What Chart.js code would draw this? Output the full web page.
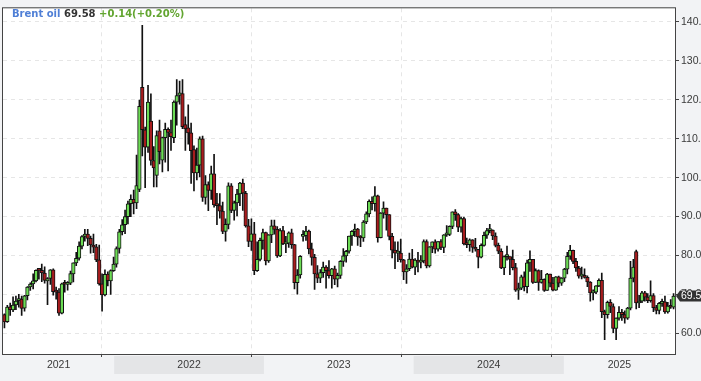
<!DOCTYPE html>
<html>
<head>
<meta charset="utf-8">
<script src="https://cdn.jsdelivr.net/npm/chart.js@4.4.1/dist/chart.umd.min.js"></script>
<style>
  html, body { margin: 0; padding: 0; background: #f2f3f5; }
  #wrap { position: relative; width: 701px; height: 381px; overflow: hidden; }
  #title { position: absolute; left: 12px; top: 8px; font: bold 10px "DejaVu Sans", sans-serif; line-height: 12px; white-space: nowrap; }
</style>
</head>
<body>
<div id="wrap">
  <canvas id="chart1"></canvas>
  <div id="title"><span style="color:#4f7fd6">Brent oil</span> <span style="color:#333">69.58</span> <span style="color:#62a530">+0.14(+0.20%)</span></div>
</div>
<script>
// weekly candles, first week starts Mon 5 Apr 2021
const firstWeek = '2021-04-05';

const opens = [
  // 2021
  64.8,63.0,66.8,66.0,67.3,68.4,68.8,66.5,69.7,71.9,72.7,73.5,76.2,76.2,75.5,73.5,74.1,76.3,70.7,70.6,
  65.2,72.7,72.6,72.9,75.3,78.1,79.3,82.4,84.9,85.5,84.4,82.7,82.2,78.9,72.7,69.9,75.2,73.5,76.1,
  // 2022
  77.8,81.8,86.1,87.9,90.0,93.3,94.4,93.5,97.0,123.2,112.3,107.8,114.5,104.4,100.6,112.0,104.5,110.3,112.4,111.6,
  110.3,119.4,121.1,121.6,113.6,112.8,111.5,107.2,101.2,103.2,110.0,94.9,98.2,96.7,101.0,93.0,92.8,91.4,86.2,88.0,
  97.9,91.6,93.5,95.8,98.6,96.0,87.6,83.6,85.6,76.1,79.0,83.9,
  // 2023
  85.9,78.6,85.3,87.6,86.7,79.9,86.4,83.0,83.2,85.8,82.8,73.0,75.0,84.9,85.1,86.3,81.7,79.5,75.3,74.2,
  75.6,77.0,76.1,74.8,76.6,73.9,74.9,78.5,79.9,81.1,85.0,86.2,86.8,84.8,84.5,88.6,90.7,93.9,93.3,95.3,
  84.6,90.9,92.2,90.5,84.9,81.4,80.6,80.6,78.9,75.8,76.6,79.1,
  // 2024
  77.0,78.8,78.3,78.6,83.6,77.3,82.2,83.5,81.6,83.6,82.1,85.3,85.4,87.5,91.2,90.5,87.3,89.5,83.0,82.8,
  84.0,82.1,81.6,79.6,82.6,85.2,86.4,86.5,85.0,82.6,81.1,76.8,79.7,79.7,79.0,76.9,71.1,71.6,74.5,72.0,
  78.1,79.0,73.1,76.1,73.1,73.9,71.0,75.2,72.9,71.1,74.5,72.9,
  // 2025
  74.2,76.5,79.8,81.3,78.5,76.8,74.7,74.7,74.4,73.2,70.4,70.6,72.2,73.6,65.6,64.8,68.0,66.9,61.3,63.9,
  65.4,64.8,63.9,66.5,74.2,81.0,67.8,68.3,70.4,69.3,68.4,69.7,66.6,65.9,67.7,68.1,65.5,67.0,66.7
];
const highs = [
  65.0,67.2,67.8,69.4,69.6,70.0,69.6,69.8,72.0,73.0,75.3,76.3,76.6,77.8,77.1,74.3,76.4,76.6,71.9,71.5,
  72.9,73.6,73.3,76.0,78.1,80.8,83.5,85.1,86.7,86.7,85.0,85.5,82.9,82.7,75.3,76.3,75.8,76.3,79.6,
  82.2,86.7,89.2,91.7,94.0,95.6,96.8,105.8,119.9,139.1,113.0,123.7,121.5,108.0,112.0,114.8,110.4,114.0,112.8,114.8,
  119.7,125.2,124.8,125.2,115.6,118.7,114.0,108.2,107.6,110.5,110.7,100.5,98.9,103.0,106.0,96.0,95.9,93.7,89.4,98.7,
  98.5,94.0,97.0,98.8,99.6,96.5,89.3,89.4,88.5,83.5,84.5,86.8,
  86.0,85.4,89.1,89.1,87.4,86.9,87.5,84.9,86.1,86.8,82.9,76.4,80.0,86.4,87.5,86.5,83.2,80.3,77.4,76.4,
  78.3,77.4,78.7,76.7,77.3,75.5,78.7,81.8,81.3,85.0,86.4,88.1,87.0,85.1,89.0,91.2,94.3,95.1,97.7,95.5,
  91.0,93.8,92.2,90.5,85.7,83.5,83.5,84.2,79.0,77.7,80.6,81.6,
  79.2,80.8,80.0,84.0,84.0,82.3,83.5,84.0,83.6,84.1,85.4,87.7,87.6,91.2,91.8,90.8,89.9,89.9,84.5,84.3,
  84.1,84.4,81.6,83.0,86.0,87.0,88.0,86.6,85.8,83.2,81.7,79.9,82.4,79.7,81.4,78.0,72.9,75.0,75.8,78.8,
  81.2,79.0,76.6,76.3,76.2,74.0,75.4,75.2,74.4,74.6,74.7,74.3,
  76.7,80.8,82.6,81.4,79.3,77.2,77.0,76.6,74.8,73.3,71.2,72.3,74.0,75.5,66.0,68.3,68.7,67.6,64.0,66.9,
  66.2,65.8,66.7,78.5,79.0,81.4,69.8,70.8,70.8,70.2,73.5,70.2,67.2,68.0,68.8,69.6,68.0,68.7,70.2
];
const lows = [
  61.4,62.8,64.6,65.6,66.1,66.7,64.6,65.7,68.6,71.0,71.4,73.2,73.9,73.3,72.9,67.4,72.6,69.8,68.8,64.6,
  65.0,70.6,71.1,72.5,73.2,77.4,78.8,81.7,83.7,82.5,80.6,80.7,78.4,72.4,65.7,69.6,72.2,70.0,75.9,
  77.0,80.6,85.3,85.6,88.1,90.0,90.7,92.0,96.4,105.6,97.4,106.5,103.2,97.6,97.6,103.5,101.5,104.0,101.7,107.0,
  109.0,113.5,118.9,112.6,107.0,108.6,98.5,96.6,99.4,100.2,93.9,93.2,91.5,94.4,92.4,87.9,89.6,85.6,83.7,86.8,
  91.0,89.1,90.2,92.8,91.6,87.3,82.3,81.3,75.1,75.9,78.6,81.6,
  77.6,78.2,83.3,85.5,79.5,79.7,82.8,80.7,82.1,81.8,71.4,70.1,74.2,83.7,83.9,80.4,77.5,71.3,73.0,73.0,
  74.4,71.6,74.2,71.6,72.5,71.9,74.1,77.2,78.3,80.6,82.6,84.9,82.6,82.3,83.6,88.2,89.9,91.7,91.4,83.4,
  84.5,89.6,86.5,84.0,79.4,76.6,78.4,78.3,73.8,72.8,76.1,76.8,
  75.1,75.8,76.8,78.1,76.8,77.0,80.7,80.6,81.1,81.5,80.7,84.9,85.1,86.9,89.0,86.1,86.0,82.7,82.0,81.1,
  80.8,81.1,76.8,79.4,82.4,84.4,85.8,84.1,82.2,80.5,76.6,75.1,78.8,75.1,76.3,70.8,68.7,71.2,70.9,70.4,
  75.9,72.8,73.0,71.0,72.9,70.8,71.0,71.9,70.9,71.0,71.9,72.3,
  73.3,75.3,79.0,77.9,75.9,74.2,74.0,74.2,72.0,68.3,68.6,70.2,72.0,64.0,58.4,63.9,65.3,60.2,58.4,63.4,
  63.3,62.6,63.6,66.0,73.2,66.3,66.6,67.9,68.3,67.9,68.0,65.6,65.0,65.0,66.9,65.1,65.2,66.4,66.3
];
const closes = [
  62.95,66.77,66.11,67.25,68.28,68.71,66.44,69.63,71.89,72.69,73.51,76.18,76.17,75.55,73.59,74.10,76.33,70.70,70.59,65.18,
  72.70,72.61,72.92,75.34,78.09,79.28,82.39,84.86,85.53,84.38,82.74,82.17,78.89,72.72,69.88,75.15,73.52,76.14,77.78,
  81.75,86.06,87.89,90.03,93.27,94.44,93.54,97.93,118.3,112.3,107.8,119.4,104.4,102.5,110.8,106.7,110.3,112.4,111.6,110.5,
  119.4,121.1,121.8,113.1,112.5,111.5,106.9,101.2,103.2,110.0,94.9,98.2,96.7,101.0,93.0,92.8,91.4,86.2,88.0,97.9,
  91.6,93.5,95.8,98.6,96.0,87.6,83.6,85.6,76.1,79.0,83.9,85.9,
  78.6,85.3,87.6,86.7,79.9,86.4,83.0,83.2,85.8,82.8,73.0,75.0,79.8,85.1,86.3,81.7,79.5,75.3,74.2,75.6,
  77.0,76.1,74.8,76.6,73.9,74.9,78.5,79.9,81.1,85.0,86.2,86.8,84.8,84.5,88.6,90.7,93.9,93.3,95.3,84.6,
  90.9,92.2,90.5,84.9,81.4,80.6,80.6,78.9,75.8,76.6,79.1,77.0,
  78.8,78.3,78.6,83.6,77.3,82.2,83.5,81.6,83.6,82.1,85.3,85.4,87.5,91.2,90.5,87.3,89.5,83.0,82.8,84.0,
  82.1,81.6,79.6,82.6,85.2,86.4,86.5,85.0,82.6,81.1,76.8,79.7,79.7,79.0,76.9,71.1,71.6,74.5,72.0,78.1,
  79.0,73.1,76.1,73.1,73.9,71.0,75.2,72.9,71.1,74.5,72.9,74.2,
  76.5,79.8,81.3,78.5,76.8,74.7,74.7,74.4,73.2,70.4,70.6,72.2,73.6,65.6,64.8,68.0,66.9,61.3,63.9,65.4,
  64.8,63.9,66.5,74.2,77.0,67.8,68.3,70.4,69.3,68.4,69.7,66.6,65.9,67.7,68.1,65.5,67.0,66.7,69.58
];

const yTicks = [60, 70, 80, 90, 100, 110, 120, 130, 140];
const yearLabels = ['2021', '2022', '2023', '2024', '2025'];
const gridDates = ['2021-12-01', '2022-12-01', '2023-12-01', '2024-12-01'];
const lastPrice = 69.58;

const DAY = 86400000;
const t0 = Date.parse(firstWeek);
const weekLabels = closes.map((c, i) => new Date(t0 + i * 7 * DAY).toISOString().slice(0, 10));

const UP = '#6cdc55';
const DOWN = '#a81c1e';
const GRID = '#e6e6e6';
const TXT = '#3a3a3a';
const FONT = '"Liberation Sans", Arial, sans-serif';

// pixel of a calendar date on the weekly category axis
function xOfDate(x, t) {
  const step = x.getPixelForValue(1) - x.getPixelForValue(0);
  const left = x.getPixelForValue(0) - step / 2;
  return left + (t - t0) / (7 * DAY) * step;
}

const frame = {
  id: 'frame',
  beforeDraw(chart) {
    const { ctx, chartArea: a, scales: { x } } = chart;
    ctx.save();
    ctx.fillStyle = '#f2f3f5';
    ctx.fillRect(0, 0, chart.width, chart.height);
    ctx.fillStyle = '#fff';
    ctx.fillRect(a.left, a.top, a.right - a.left, a.bottom - a.top);

    // year bands + labels under the plot
    ctx.font = '10.5px ' + FONT;
    ctx.textAlign = 'center';
    ctx.textBaseline = 'middle';
    yearLabels.forEach((yr, i) => {
      const s = Math.max(a.left, xOfDate(x, Date.parse(yr + '-01-01')));
      const e = Math.min(a.right, xOfDate(x, Date.parse((+yr + 1) + '-01-01')));
      if (i % 2 === 1) {
        ctx.fillStyle = '#e4e5e7';
        ctx.fillRect(s, a.bottom + 2, e - s, 18);
      }
      ctx.fillStyle = TXT;
      ctx.fillText(yr, (s + e) / 2, a.bottom + 11);
    });

    // vertical dashed lines
    ctx.strokeStyle = GRID;
    ctx.lineWidth = 1;
    ctx.setLineDash([4, 4]);
    gridDates.forEach(d => {
      const px = Math.round(xOfDate(x, Date.parse(d))) + 0.5;
      ctx.beginPath();
      ctx.moveTo(px, a.top);
      ctx.lineTo(px, a.bottom);
      ctx.stroke();
    });
    ctx.restore();
  },
  afterDraw(chart) {
    const { ctx, chartArea: a, scales: { x, y } } = chart;
    ctx.save();
    ctx.strokeStyle = '#444';
    ctx.lineWidth = 1;
    ctx.strokeRect(a.left - 0.5, a.top - 0.5, a.right - a.left + 1, a.bottom - a.top + 1);
    gridDates.forEach(d => {
      const px = Math.round(xOfDate(x, Date.parse(d))) + 0.5;
      ctx.beginPath();
      ctx.moveTo(px, a.bottom);
      ctx.lineTo(px, a.bottom + 3);
      ctx.stroke();
    });

    // last price tag
    const py = y.getPixelForValue(lastPrice);
    ctx.fillStyle = '#333';
    ctx.beginPath();
    ctx.moveTo(a.right + 1, py);
    ctx.lineTo(a.right + 5, py - 5.5);
    ctx.lineTo(chart.width, py - 5.5);
    ctx.lineTo(chart.width, py + 5.5);
    ctx.lineTo(a.right + 5, py + 5.5);
    ctx.closePath();
    ctx.fill();
    ctx.fillStyle = '#fff';
    ctx.font = '10.5px ' + FONT;
    ctx.textBaseline = 'middle';
    ctx.fillText(lastPrice.toFixed(2), a.right + 6, py + 0.5);
    ctx.restore();
  }
};

new Chart(document.getElementById('chart1'), {
  type: 'bar',
  data: {
    labels: weekLabels,
    datasets: [
      {
        label: 'body',
        data: opens.map((o, i) => [o, closes[i]]),
        backgroundColor: opens.map((o, i) => closes[i] >= o ? UP : DOWN),
        borderColor: '#111',
        borderWidth: 1,
        borderSkipped: false,
        barThickness: 3.6,
        minBarLength: 2,
        grouped: false
      },
      {
        label: 'wick',
        data: lows.map((l, i) => [l, highs[i]]),
        backgroundColor: '#111',
        borderWidth: 0,
        barThickness: 1,
        grouped: false
      }
    ]
  },
  options: {
    responsive: true,
    maintainAspectRatio: false,
    animation: false,
    layout: { padding: { left: 3, top: 1, bottom: 27, right: 0 } },
    plugins: { legend: { display: false }, tooltip: { enabled: false } },
    scales: {
      x: { display: false, offset: true },
      y: {
        position: 'right',
        min: 54.7,
        max: 143.5,
        afterBuildTicks: s => { s.ticks = yTicks.map(v => ({ value: v })); },
        afterFit: s => { s.width = 26; },
        border: { display: false, dash: [4, 4] },
        grid: { color: GRID, tickColor: '#444', tickLength: 4, tickBorderDash: [] },
        ticks: {
          color: TXT,
          padding: 2,
          font: { family: FONT, size: 10.5 },
          callback: v => v.toFixed(1)
        }
      }
    }
  },
  plugins: [frame]
});
</script>
</body>
</html>
